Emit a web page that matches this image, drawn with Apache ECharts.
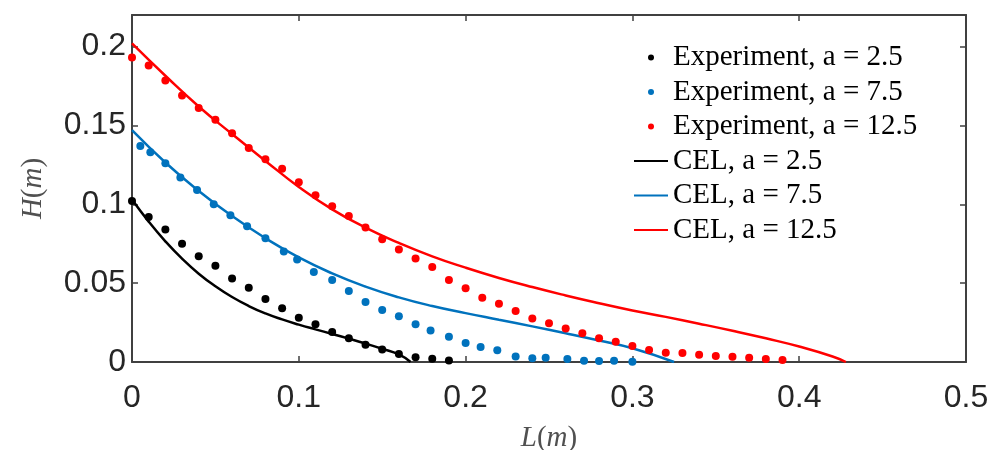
<!DOCTYPE html>
<html>
<head>
<meta charset="utf-8">
<script src="https://cdn.jsdelivr.net/npm/echarts@6/dist/echarts.min.js"></script>
<style>html,body{margin:0;padding:0;background:#fff;}#c{width:999px;height:450px;}</style>
</head>
<body>
<div id="c"></div>
<script>
// Experimental points
var expX_25 = [0,0.01,0.02,0.03,0.04,0.05,0.06,0.07,0.08,0.09,0.10,0.11,0.12,0.13,0.14,0.15,0.16,0.17,0.18,0.19];
var expY_25 = [0.102,0.092,0.084,0.075,0.067,0.061,0.053,0.047,0.040,0.034,0.028,0.024,0.019,0.015,0.011,0.008,0.005,0.003,0.002,0.001];

var expX_75 = [0.005,0.011,0.020,0.029,0.039,0.049,0.059,0.069,0.080,0.091,0.099,0.109,0.120,0.130,0.140,0.150,0.160,0.170,0.179,0.190,0.200,0.209,0.219,0.230,0.240,0.248,0.261,0.271,0.280,0.289,0.300];
var expY_75 = [0.137,0.133,0.126,0.117,0.109,0.100,0.093,0.086,0.0785,0.070,0.065,0.057,0.052,0.045,0.038,0.033,0.029,0.024,0.020,0.016,0.012,0.0095,0.0075,0.0035,0.0023,0.0027,0.0019,0.0008,0.0006,0.0008,0.0002];

var expX_125 = [0,0.01,0.02,0.03,0.04,0.05,0.06,0.07,0.08,0.09,0.10,0.11,0.12,0.13,0.14,0.15,0.16,0.17,0.18,0.19,0.20,0.21,0.22,0.23,0.24,0.25,0.26,0.27,0.28,0.29,0.30,0.31,0.32,0.33,0.34,0.35,0.36,0.37,0.38,0.39];
var expY_125 = [0.193,0.188,0.1785,0.169,0.161,0.1536,0.145,0.1356,0.1285,0.1226,0.114,0.1057,0.0987,0.0926,0.0853,0.0778,0.0713,0.0656,0.0603,0.052,0.0468,0.0407,0.037,0.0323,0.0276,0.0245,0.0213,0.0182,0.015,0.0129,0.0101,0.0076,0.0059,0.0057,0.0046,0.0038,0.0034,0.0027,0.0019,0.0013];

// CEL model curves
var celX_25 = [0,0.01,0.02,0.03,0.04,0.05,0.06,0.07,0.08,0.09,0.10,0.11,0.12,0.13,0.14,0.15,0.16,0.167];
var celY_25 = [0.103,0.0890,0.0765,0.0655,0.0560,0.0480,0.0412,0.0355,0.0308,0.0270,0.0237,0.0207,0.0178,0.0148,0.0117,0.0084,0.0048,0];

var celX_75 = [0,0.02,0.04,0.06,0.08,0.10,0.12,0.14,0.16,0.18,0.20,0.22,0.24,0.26,0.28,0.30,0.325];
var celY_75 = [0.147,0.1265,0.1085,0.0925,0.0785,0.0663,0.0562,0.0478,0.0410,0.0355,0.0310,0.0268,0.0226,0.0182,0.0136,0.0087,0];

var celX_125 = [0,0.02,0.04,0.06,0.08,0.10,0.12,0.14,0.16,0.18,0.20,0.22,0.24,0.26,0.28,0.30,0.32,0.34,0.36,0.38,0.40,0.42,0.428];
var celY_125 = [0.202,0.1815,0.1620,0.1445,0.1275,0.1110,0.0968,0.0852,0.0755,0.0670,0.0598,0.0533,0.0475,0.0422,0.0373,0.0327,0.0286,0.0243,0.0198,0.0150,0.0098,0.0035,0];

var expNames = ['Experiment, a = 2.5','Experiment, a = 7.5','Experiment, a = 12.5'];
var celNames = ['CEL, a = 2.5','CEL, a = 7.5','CEL, a = 12.5'];
var colors = ['#000000','#0072BD','#FF0000'];

function pairs(xs, ys){ return xs.map(function(x,i){ return [x, ys[i]]; }); }

var expSets = [pairs(expX_25,expY_25), pairs(expX_75,expY_75), pairs(expX_125,expY_125)];
var celSets = [pairs(celX_25,celY_25), pairs(celX_75,celY_75), pairs(celX_125,celY_125)];

var series = [];
for (var i=0;i<3;i++){
  series.push({
    name: expNames[i], type:'scatter', data: expSets[i],
    symbol:'circle', symbolSize:8, itemStyle:{color:colors[i], opacity:1}, z:3
  });
}
for (var j=0;j<3;j++){
  series.push({
    name: celNames[j], type:'line', data: celSets[j],
    smooth:0.5, symbol:'none', showSymbol:false,
    lineStyle:{color:colors[j], width:2.5}, itemStyle:{color:colors[j]}, z:2
  });
}

var legendData = expNames.map(function(n){ return {name:n, icon:'circle'}; })
  .concat(celNames.map(function(n){ return {name:n, itemStyle:{opacity:0}}; }));

var axisCol = '#404040';
var labCol = '#262626';
var nameRich = {i:{fontFamily:'Liberation Serif', fontStyle:'italic', fontSize:29, color:'#505050'}, n:{fontFamily:'Liberation Serif', fontSize:29, color:'#505050'}};
var chart = echarts.init(document.getElementById('c'), null, {renderer:'canvas'});
chart.setOption({
  animation:false,
  backgroundColor:'#ffffff',
  grid:{left:132, top:15, right:33, bottom:88, containLabel:false, outerBoundsMode:'none'},
  legend:{
    data: legendData,
    orient:'vertical', left:633, top:43, padding:0,
    itemWidth:34, itemHeight:6, itemGap:5.5,
    textStyle:{fontFamily:'Liberation Serif', fontSize:29, color:'#000', lineHeight:29}
  },
  xAxis:[{
    type:'value', min:0, max:0.5, interval:0.1, position:'bottom',
    axisLine:{show:true, onZero:false, lineStyle:{color:axisCol, width:2}},
    axisTick:{show:true, inside:true, length:6, lineStyle:{color:axisCol, width:1.5}},
    axisLabel:{fontFamily:'Liberation Sans', fontSize:32, color:labCol, margin:20},
    splitLine:{show:false},
    name:'{i|L}{n|(}{i|m}{n|)}', nameLocation:'middle', nameGap:62,
    nameTextStyle:{rich:nameRich}
  },{
    type:'value', min:0, max:0.5, interval:0.1, position:'top',
    axisLine:{show:true, onZero:false, lineStyle:{color:axisCol, width:2}},
    axisTick:{show:true, inside:true, length:6, lineStyle:{color:axisCol, width:1.5}},
    axisLabel:{show:false}, splitLine:{show:false}
  }],
  yAxis:[{
    type:'value', min:0, max:0.22, interval:0.05, position:'left',
    axisLine:{show:true, onZero:false, lineStyle:{color:axisCol, width:2}},
    axisTick:{show:true, inside:true, length:6, lineStyle:{color:axisCol, width:1.5}},
    axisLabel:{fontFamily:'Liberation Sans', fontSize:32, color:labCol, margin:6, showMaxLabel:false},
    splitLine:{show:false},
    name:'{i|H}{n|(}{i|m}{n|)}', nameLocation:'middle', nameGap:84, nameRotate:90,
    nameTextStyle:{rich:nameRich}
  },{
    type:'value', min:0, max:0.22, interval:0.05, position:'right',
    axisLine:{show:true, onZero:false, lineStyle:{color:axisCol, width:2}},
    axisTick:{show:true, inside:true, length:6, lineStyle:{color:axisCol, width:1.5}},
    axisLabel:{show:false}, splitLine:{show:false}
  }],
  series: series
});
</script>
</body>
</html>
